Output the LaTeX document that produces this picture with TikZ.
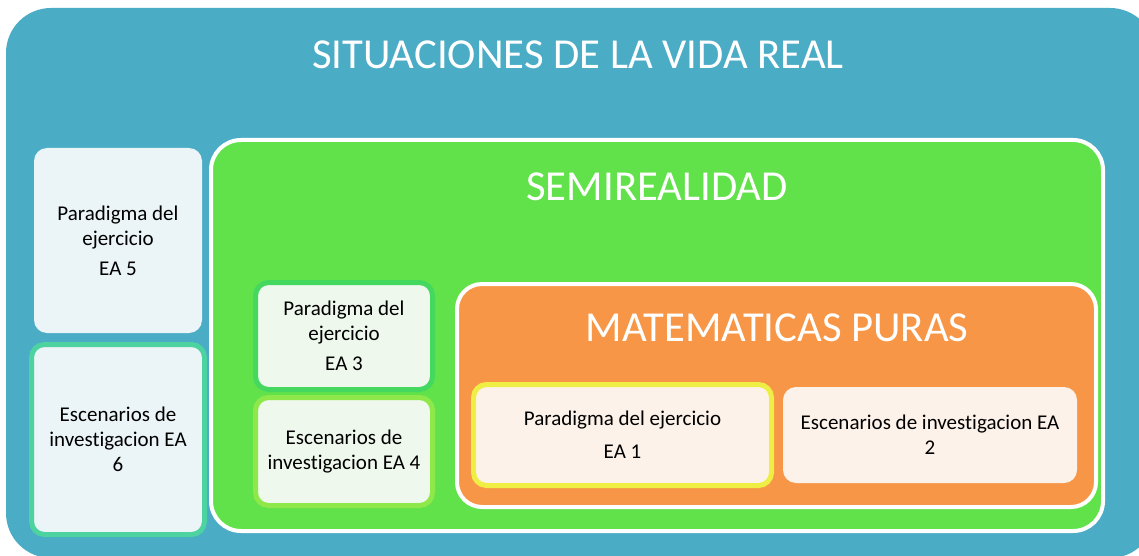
\documentclass[tikz,border=0pt]{standalone}
\usepackage{fontspec}
\setmainfont[Ligatures={NoCommon,NoContextual,NoRare}]{Carlito}
\usetikzlibrary{positioning}

\definecolor{sitblue}{HTML}{4BACC6}
\definecolor{semigreen}{HTML}{62E24A}
\definecolor{matorange}{HTML}{F79646}
\definecolor{tintblue}{HTML}{EBF4F7}
\definecolor{tintgreen}{HTML}{EEF8EC}
\definecolor{tintorange}{HTML}{FDF2EA}
\definecolor{rimteal}{HTML}{4CD3A0}
\definecolor{rimgreen}{HTML}{45D85F}
\definecolor{rimlime}{HTML}{8EE84A}
\definecolor{rimyellow}{HTML}{EEEE44}

\begin{document}
\begin{tikzpicture}[x=1pt,y=-1pt,
    frame/.style={rectangle,inner sep=0pt},
    title/.style={text=white,font=\fontsize{42.7}{50}\selectfont},
    card/.style={rectangle,rounded corners=13pt,inner sep=0pt,align=center,
      font=\fontsize{21}{25}\selectfont,line width=5pt}]
  \useasboundingbox (0,0) rectangle (1139,556);
  \clip (0,0) rectangle (1139,556);

  % outer frame
  \node[frame,fill=sitblue,rounded corners=45pt,
    minimum width=1149pt,minimum height=550pt] (sit) at (580.5,283) {};
  \node[title] (sitT) at (578,55) {SITUACIONES DE LA VIDA REAL};

  \node[card,fill=tintblue,minimum width=168pt,minimum height=185pt]
    (ea5) at (118,240.5) {Paradigma del\\ejercicio\\[5pt]EA 5};
  \node[card,fill=tintblue,draw=rimteal,minimum width=173pt,minimum height=190pt]
    (ea6) at (118,439.5) {Escenarios de\\investigacion EA\\6};

  % semirealidad
  \node[frame,fill=semigreen,draw=white,line width=4pt,rounded corners=30pt,
    minimum width=892pt,minimum height=391pt] (semi) at (657,335.5) {};
  \node[title] (semiT) at (657,187) {SEMIREALIDAD};

  \node[card,fill=tintgreen,draw=rimgreen,minimum width=177pt,minimum height=107pt]
    (ea3) at (344,336) {Paradigma del\\ejercicio\\[5pt]EA 3};
  \node[card,fill=tintgreen,draw=rimlime,minimum width=177pt,minimum height=108pt]
    (ea4) at (344,451.5) {Escenarios de\\investigacion EA 4};

  % matematicas puras
  \node[frame,fill=matorange,draw=white,line width=4pt,rounded corners=25pt,
    minimum width=639pt,minimum height=223pt] (mat) at (776.5,395.5) {};
  \node[title] (matT) at (777,328) {MATEMATICAS PURAS};

  \node[card,fill=tintorange,draw=rimyellow,minimum width=298pt,minimum height=101pt]
    (ea1) at (622.5,435) {Paradigma del ejercicio\\[8pt]EA 1};
  \node[card,fill=tintorange,minimum width=294pt,minimum height=96pt]
    (ea2) at (930,435) {Escenarios de investigacion EA\\2};
\end{tikzpicture}
\end{document}
